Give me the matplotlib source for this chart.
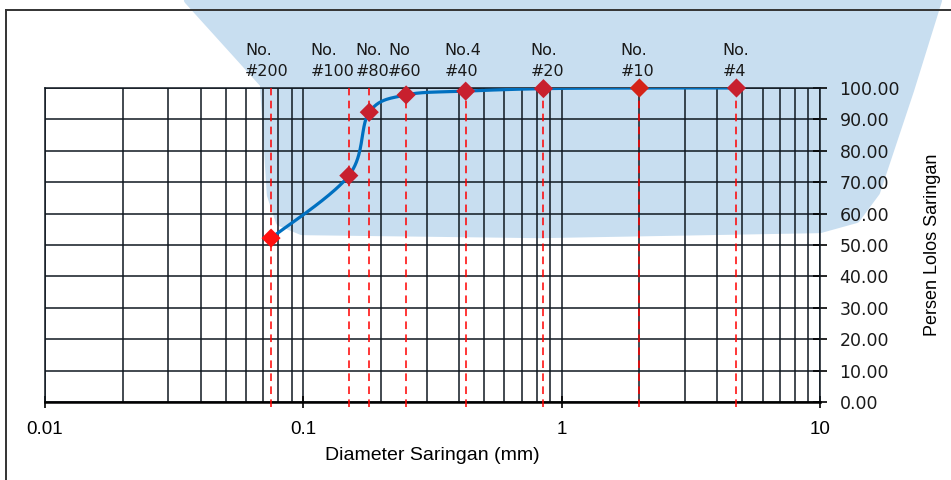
"""
Sieve analysis chart: percent passing vs. sieve diameter (log scale).
Output: out.png (951 x 480 px)
"""

import numpy as np
import matplotlib

matplotlib.use("Agg")
import matplotlib.pyplot as plt
from matplotlib.lines import Line2D
from matplotlib.patches import Polygon


# <>#<>#<>#<>#<>#<>#<>#<>#<>#<>#<>#<>#<>#<>#<>#<>#<>#<>#<>#<>#<>#<>#<>#<>#<>#<>
# <> Step 0. Data
# <>#<>#<>#<>#<>#<>#<>#<>#<>#<>#<>#<>#<>#<>#<>#<>#<>#<>#<>#<>#<>#<>#<>#<>#<>#<>

SIEVE_NAMES = ["No.\n#200", "No.\n#100", "No.\n#80", "No\n#60",
               "No.4\n#40", "No.\n#20", "No.\n#10", "No.\n#4"]
SIEVE_DIAMETER = [0.075, 0.15, 0.18, 0.25, 0.425, 0.85, 2.0, 4.75]
PERCENT_PASSING = [52.2, 72.1, 92.3, 97.8, 99.0, 99.8, 100.0, 100.0]

X_TICKS = [0.01, 0.1, 1, 10]
X_TICK_LABELS = ["0.01", "0.1", "1", "10"]
Y_TICKS = list(range(0, 101, 10))

# layout only: horizontal shift (px) of each sieve label's left edge
LABEL_SHIFT = [-26, -38, -14, -18, -21, -13, -19, -14]
MARKER_COLORS = ["#FF1010", "#C8202E", "#C8202E", "#C8202E",
                 "#C8202E", "#C8202E", "#D42318", "#C8202E"]

# layout only: outline (px, from top-left) of the pale watermark area
WATERMARK_OUTLINE = [(188, 0), (264, 84), (271, 195), (280, 222), (302, 231),
                     (540, 234), (820, 229), (856, 219), (876, 192), (910, 90),
                     (938, 0)]

W, H, DPI = 951, 480, 100
LINE_BLUE = "#0070C0"
GRID_COLOR = "#101820"


def smooth_curve(axis, xs, ys, samples=40):
    """Excel-like smoothed line (Catmull-Rom Bezier) built in screen space."""
    pts = axis.transData.transform(np.column_stack([xs, ys]))
    out = []
    n = len(pts)
    t = np.linspace(0, 1, samples)[:, None]
    for i in range(n - 1):
        p0 = pts[i - 1] if i > 0 else pts[i]
        p1, p2 = pts[i], pts[i + 1]
        p3 = pts[i + 2] if i + 2 < n else pts[i + 1]
        c1 = p1 + (p2 - p0) / 6
        c2 = p2 - (p3 - p1) / 6
        seg = ((1 - t) ** 3) * p1 + 3 * ((1 - t) ** 2) * t * c1 \
            + 3 * (1 - t) * t ** 2 * c2 + t ** 3 * p2
        out.append(seg if i == 0 else seg[1:])
    data = axis.transData.inverted().transform(np.vstack(out))
    return data[:, 0], data[:, 1]


# <>#<>#<>#<>#<>#<>#<>#<>#<>#<>#<>#<>#<>#<>#<>#<>#<>#<>#<>#<>#<>#<>#<>#<>#<>#<>
# <> Step 1. Figure, background and frame
# <>#<>#<>#<>#<>#<>#<>#<>#<>#<>#<>#<>#<>#<>#<>#<>#<>#<>#<>#<>#<>#<>#<>#<>#<>#<>

fig = plt.figure(figsize=(W / DPI, H / DPI), dpi=DPI, facecolor="white")

# pale light-blue watermark area behind the chart
outline = [(px / W, 1 - py / H) for px, py in WATERMARK_OUTLINE]
fig.add_artist(Polygon(outline, closed=True, transform=fig.transFigure,
                       facecolor="#C8DEF0", edgecolor="#C8DEF0", lw=6,
                       joinstyle="round", zorder=-5))

# outer chart border (top and left edges visible)
fig.add_artist(Line2D([6 / W, 6 / W], [0, 1 - 10 / H], transform=fig.transFigure,
                      color="#333333", lw=1.4))
fig.add_artist(Line2D([6 / W, 1], [1 - 10 / H, 1 - 10 / H], transform=fig.transFigure,
                      color="#333333", lw=1.4))

ax = fig.add_axes([45 / W, (H - 402) / H, (820 - 45) / W, (402 - 88) / H])
ax.set_facecolor("none")
ax.set_xscale("log")
ax.set_xlim(0.01, 10)
ax.set_ylim(0, 100)


# <>#<>#<>#<>#<>#<>#<>#<>#<>#<>#<>#<>#<>#<>#<>#<>#<>#<>#<>#<>#<>#<>#<>#<>#<>#<>
# <> Step 2. Axes, ticks and grid
# <>#<>#<>#<>#<>#<>#<>#<>#<>#<>#<>#<>#<>#<>#<>#<>#<>#<>#<>#<>#<>#<>#<>#<>#<>#<>

ax.xaxis.set_minor_locator(matplotlib.ticker.LogLocator(base=10, subs=np.arange(2, 10)))
ax.set_xticks(X_TICKS)
ax.set_xticklabels(X_TICK_LABELS, fontfamily="Liberation Sans", fontsize=13.5)
ax.xaxis.set_minor_formatter(matplotlib.ticker.NullFormatter())
ax.tick_params(axis="x", which="major", direction="inout", length=9, width=1.2,
               pad=9, colors="black")
ax.tick_params(axis="x", which="minor", length=0)

ax.yaxis.tick_right()
ax.set_yticks(Y_TICKS)
ax.set_yticklabels([f"{v:.2f}" for v in Y_TICKS], fontfamily="DejaVu Sans",
                   fontsize=12.5, color="#1a1a1a")
ax.tick_params(axis="y", which="major", direction="inout", length=10, width=1.2, pad=9)

ax.grid(True, axis="x", which="both", color=GRID_COLOR, lw=1.1)
ax.grid(True, axis="y", which="major", color=GRID_COLOR, lw=1.1)
ax.set_axisbelow(True)
for side in ["top", "left", "right"]:
    ax.spines[side].set_linewidth(1.1)
    ax.spines[side].set_color(GRID_COLOR)
ax.spines["bottom"].set_linewidth(1.8)
ax.spines["bottom"].set_color("black")

ax.set_xlabel("Diameter Saringan (mm)", fontfamily="Liberation Sans", fontsize=14,
              labelpad=7)
ax.yaxis.set_label_position("right")
ax.set_ylabel("Persen Lolos Saringan", fontfamily="Liberation Sans", fontsize=13,
              labelpad=17)


# <>#<>#<>#<>#<>#<>#<>#<>#<>#<>#<>#<>#<>#<>#<>#<>#<>#<>#<>#<>#<>#<>#<>#<>#<>#<>
# <> Step 3. Sieve lines, gradation curve and labels
# <>#<>#<>#<>#<>#<>#<>#<>#<>#<>#<>#<>#<>#<>#<>#<>#<>#<>#<>#<>#<>#<>#<>#<>#<>#<>

for d in SIEVE_DIAMETER:
    ax.plot([d, d], [-1.5, 100], color="#FF0000", lw=1.1, ls=(0, (5, 3.5)),
            zorder=3, clip_on=False)

cx, cy = smooth_curve(ax, SIEVE_DIAMETER, PERCENT_PASSING)
ax.plot(cx, cy, color=LINE_BLUE, lw=2.3, zorder=4, solid_capstyle="round")
ax.scatter(SIEVE_DIAMETER, PERCENT_PASSING, marker="D", s=95, c=MARKER_COLORS,
           edgecolors="none", zorder=5, clip_on=False)

for name, d, shift in zip(SIEVE_NAMES, SIEVE_DIAMETER, LABEL_SHIFT):
    top, bottom = name.split("\n")
    for text, lift in [(top, 33), (bottom, 12)]:
        ax.annotate(text, xy=(d, 1), xycoords=("data", "axes fraction"),
                    xytext=(shift, lift), textcoords="offset pixels",
                    ha="left", va="baseline", fontsize=11.5,
                    fontfamily="DejaVu Sans", color="#1a1a1a")

fig.savefig("out.png", dpi=DPI, facecolor="white")
plt.close(fig)
